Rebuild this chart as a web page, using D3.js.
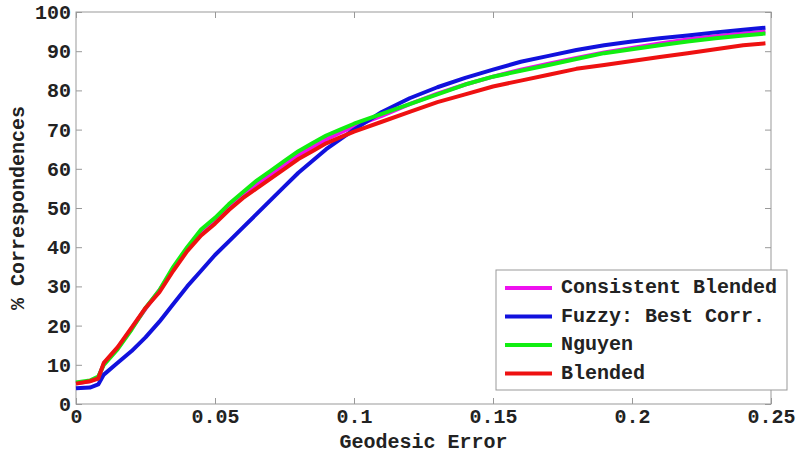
<!DOCTYPE html>
<html>
<head>
<meta charset="utf-8">
<script src="https://cdn.jsdelivr.net/npm/d3@7"></script>
<style>
  html, body { margin: 0; padding: 0; background: #fff; }
  svg { display: block; }
  text { font-family: "Liberation Mono", "DejaVu Sans Mono", monospace; font-weight: bold; fill: #222; }
</style>
</head>
<body>
<svg id="chart" width="799" height="455"></svg>
<script>
// Geodesic error thresholds (shared sample positions for every curve)
const errors = [0, 0.005, 0.008, 0.01, 0.015, 0.02, 0.025, 0.03, 0.035, 0.04, 0.045, 0.05,
  0.055, 0.06, 0.065, 0.07, 0.075, 0.08, 0.085, 0.09, 0.095, 0.1, 0.11, 0.12, 0.13, 0.14,
  0.15, 0.16, 0.17, 0.18, 0.19, 0.2, 0.21, 0.22, 0.23, 0.24, 0.248];

// % correspondences within each error threshold
const consistentBlended = [5.3, 5.8, 6.7, 10.3, 14.3, 19.3, 24.3, 29, 34.5, 39.5, 43.5, 46.5,
  50, 53, 56, 58.5, 61, 63.5, 65.5, 67.5, 69.2, 70.8, 73.5, 76.5, 79.2, 81.5,
  83.5, 85.3, 86.8, 88.3, 89.7, 90.8, 92, 93, 93.8, 94.5, 95];
const fuzzyBestCorr = [4, 4.2, 5, 7.5, 10.5, 13.5, 17, 21, 25.5, 30, 34, 38,
  41.5, 45, 48.5, 52, 55.5, 59, 62, 65, 67.5, 70, 74.5, 78, 80.8, 83.2,
  85.3, 87.3, 88.8, 90.3, 91.5, 92.5, 93.3, 94, 94.8, 95.5, 96];
const nguyen = [5.5, 6, 7, 10, 14, 19, 24.5, 29, 35, 40, 44.5, 47.5,
  51, 54, 57, 59.5, 62, 64.5, 66.5, 68.5, 70, 71.5, 74, 76.5, 79, 81.5,
  83.5, 85, 86.5, 88, 89.5, 90.5, 91.5, 92.5, 93.3, 94, 94.5];
const blended = [5.2, 5.8, 6.5, 10.5, 14.5, 19.5, 24.5, 28.5, 34, 39, 43, 46,
  49.5, 52.5, 55, 57.5, 60, 62.5, 64.5, 66.5, 68, 69.5, 72, 74.5, 77, 79,
  81, 82.5, 84, 85.5, 86.5, 87.5, 88.5, 89.5, 90.5, 91.5, 92];

const seriesNames = ["Consistent Blended", "Fuzzy: Best Corr.", "Nguyen", "Blended"];
const seriesColors = ["#ee11ee", "#1111dd", "#11ee11", "#ee1111"];
const seriesValues = [consistentBlended, fuzzyBestCorr, nguyen, blended];

const xTicks = [0, 0.05, 0.1, 0.15, 0.2, 0.25];
const xTickLabels = ["0", "0.05", "0.1", "0.15", "0.2", "0.25"];
const yTicks = [0, 10, 20, 30, 40, 50, 60, 70, 80, 90, 100];

const margin = { left: 76, right: 28, top: 12, bottom: 51 };
const W = 799, H = 455;
const svg = d3.select("#chart");

const x = d3.scaleLinear().domain([0, 0.25]).range([margin.left, W - margin.right]);
const y = d3.scaleLinear().domain([0, 100]).range([H - margin.bottom, margin.top]);

const axisColor = "#999";
const fontSize = 20;

// axes with inward ticks on all four sides
function styleAxis(g) {
  g.select(".domain").remove();
  g.selectAll(".tick line").attr("stroke", axisColor);
  g.selectAll(".tick text").attr("font-size", fontSize).attr("fill", "#222")
    .style("font-family", '"Liberation Mono", monospace').style("font-weight", "bold");
}

svg.append("g").attr("transform", `translate(0,${y(0)})`)
  .call(d3.axisBottom(x).tickValues(xTicks).tickFormat((d, i) => xTickLabels[i]).tickSize(-6).tickPadding(5))
  .call(styleAxis);
svg.append("g").attr("transform", `translate(0,${y(100)})`)
  .call(d3.axisTop(x).tickValues(xTicks).tickFormat("").tickSize(-6))
  .call(styleAxis);
svg.append("g").attr("transform", `translate(${x(0)},0)`)
  .call(d3.axisLeft(y).tickValues(yTicks).tickFormat(d3.format("d")).tickSize(-6).tickPadding(5))
  .call(styleAxis);
svg.append("g").attr("transform", `translate(${x(0.25)},0)`)
  .call(d3.axisRight(y).tickValues(yTicks).tickFormat("").tickSize(-6))
  .call(styleAxis);

svg.append("rect")
  .attr("x", x(0)).attr("y", y(100))
  .attr("width", x(0.25) - x(0)).attr("height", y(0) - y(100))
  .attr("fill", "none").attr("stroke", axisColor).attr("stroke-width", 1);

// curves
const line = d3.line().x(d => x(d[0])).y(d => y(d[1]));
seriesValues.forEach((vals, i) => {
  svg.append("path")
    .datum(errors.map((e, j) => [e, vals[j]]))
    .attr("d", line)
    .attr("fill", "none")
    .attr("stroke", seriesColors[i])
    .attr("stroke-width", 4)
    .attr("stroke-linejoin", "round");
});

// axis titles
svg.append("text")
  .attr("x", (x(0) + x(0.25)) / 2).attr("y", 443)
  .attr("text-anchor", "middle").attr("dominant-baseline", "middle")
  .attr("font-size", fontSize).text("Geodesic Error");
svg.append("text")
  .attr("transform", `translate(19,${(y(0) + y(100)) / 2}) rotate(-90)`)
  .attr("text-anchor", "middle").attr("dominant-baseline", "middle")
  .attr("font-size", fontSize).text("% Correspondences");

// legend
const legend = svg.append("g");
legend.append("rect")
  .attr("x", 496).attr("y", 270).attr("width", 291).attr("height", 120)
  .attr("fill", "#fff").attr("stroke", axisColor);
seriesNames.forEach((name, i) => {
  const ly = 288 + i * 28.5;
  legend.append("line")
    .attr("x1", 505).attr("x2", 552).attr("y1", ly).attr("y2", ly)
    .attr("stroke", seriesColors[i]).attr("stroke-width", 4);
  legend.append("text")
    .attr("x", 561).attr("y", ly).attr("dominant-baseline", "middle")
    .attr("font-size", fontSize).text(name);
});
</script>
</body>
</html>
